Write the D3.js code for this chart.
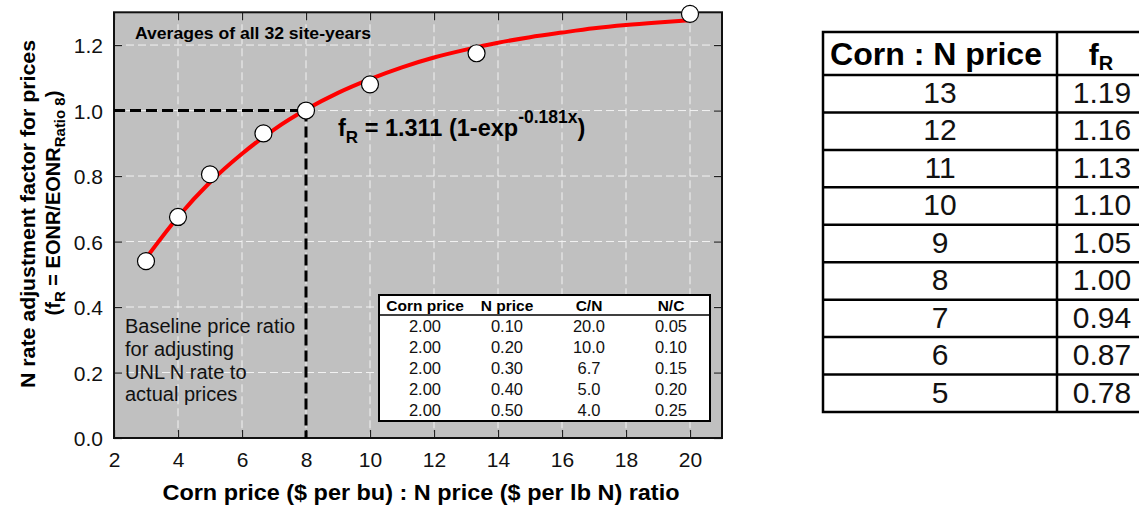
<!DOCTYPE html>
<html><head><meta charset="utf-8">
<script src="https://cdn.jsdelivr.net/npm/d3@7"></script>
<style>
html,body{margin:0;padding:0;background:#fff;}
svg{display:block;font-family:"Liberation Sans",Arial,sans-serif;}
</style></head>
<body>
<svg id="c" width="1139" height="508"></svg>
<script>
// ---- data ----
const xTicks = [2,4,6,8,10,12,14,16,18,20];
const yTicks = [0,0.2,0.4,0.6,0.8,1.0,1.2];
const ratioX = [3,4,5,6.67,8,10,13.33,20];
const factorY = [0.54,0.675,0.805,0.93,1.0,1.08,1.175,1.295];
const fitX = [3,4,5,6,7,8,9,10,11,12,13,14,15,16,17,18,19,20];
const fitY = [0.549,0.675,0.781,0.868,0.942,1.003,1.054,1.096,1.132,1.162,1.186,1.207,1.224,1.238,1.251,1.261,1.269,1.276];
const baseRatio = 8, baseFactor = 1.0;
const insetHeaders = ["Corn price","N price","C/N","N/C"];
const cornPrice = ["2.00","2.00","2.00","2.00","2.00"];
const nPrice = ["0.10","0.20","0.30","0.40","0.50"];
const cnRatio = ["20.0","10.0","6.7","5.0","4.0"];
const ncRatio = ["0.05","0.10","0.15","0.20","0.25"];
const tableRatio = ["13","12","11","10","9","8","7","6","5"];
const tableFactor = ["1.19","1.16","1.13","1.10","1.05","1.00","0.94","0.87","0.78"];
const noteLines = ["Baseline price ratio","for adjusting","UNL N rate to","actual prices"];

// ---- layout ----
const svg = d3.select("#c");
const L=114, R=722, T=12.3, B=438;
const x = d3.scaleLinear().domain([2,21]).range([L,R]);
const y = d3.scaleLinear().domain([0,1.3]).range([B,T]);

svg.append("rect").attr("x",L).attr("y",T).attr("width",R-L).attr("height",B-T).attr("fill","#c0c0c0");

// grid
const g = svg.append("g");
g.selectAll(".vg").data(xTicks.filter(d=>d>2)).join("line")
  .attr("x1",d=>x(d)).attr("x2",d=>x(d)).attr("y1",T).attr("y2",B)
  .attr("stroke","#f2f2f2").attr("stroke-width",1).attr("stroke-dasharray","8,4");
g.selectAll(".hg").data(yTicks.filter(d=>d>0)).join("line")
  .attr("y1",d=>y(d)).attr("y2",d=>y(d)).attr("x1",L).attr("x2",R)
  .attr("stroke","#f2f2f2").attr("stroke-width",1).attr("stroke-dasharray","8,4");

// axes with inward ticks
const xb = svg.append("g").attr("transform",`translate(0,${B})`)
  .call(d3.axisBottom(x).tickValues(xTicks).tickSizeInner(-8).tickSizeOuter(0).tickPadding(14).tickFormat(d3.format("d")));
const xt = svg.append("g").attr("transform",`translate(0,${T})`)
  .call(d3.axisTop(x).tickValues(xTicks).tickSizeInner(-8).tickSizeOuter(0).tickFormat(""));
const yl = svg.append("g").attr("transform",`translate(${L},0)`)
  .call(d3.axisLeft(y).tickValues(yTicks).tickSizeInner(-8).tickSizeOuter(0).tickPadding(11).tickFormat(d3.format(".1f")));
const yr = svg.append("g").attr("transform",`translate(${R},0)`)
  .call(d3.axisRight(y).tickValues(yTicks).tickSizeInner(-8).tickSizeOuter(0).tickFormat(""));
[xb,xt,yl,yr].forEach(a=>{
  a.select(".domain").remove();
  a.selectAll(".tick line").attr("stroke","#222").attr("stroke-width",1.2);
  a.selectAll("text").attr("font-size",21).attr("fill","#111").attr("font-family","Liberation Sans, Arial, sans-serif");
});
yl.selectAll("text").attr("dy","0.36em");

// border
svg.append("rect").attr("x",L).attr("y",T).attr("width",R-L).attr("height",B-T)
  .attr("fill","none").attr("stroke","#111").attr("stroke-width",2);

// baseline dashed lines
svg.append("path")
  .attr("d",`M${x(2)},${y(baseFactor)}H${x(baseRatio)}V${y(0)}`)
  .attr("fill","none").attr("stroke","#000").attr("stroke-width",3).attr("stroke-dasharray","11,5");

// fit curve
const line = d3.line().x((d,i)=>x(fitX[i])).y(d=>y(d)).curve(d3.curveMonotoneX);
svg.append("path").datum(fitY).attr("d",line).attr("fill","none").attr("stroke","#ff0000").attr("stroke-width",4);

// points
svg.selectAll(".pt").data(factorY).join("circle")
  .attr("cx",(d,i)=>x(ratioX[i])).attr("cy",d=>y(d)).attr("r",8.5)
  .attr("fill","#fff").attr("stroke","#000").attr("stroke-width",1.2);

// annotations
svg.append("text").attr("x",135).attr("y",39).attr("font-size",17).attr("font-weight","bold")
  .attr("textLength",236).attr("lengthAdjust","spacingAndGlyphs")
  .text("Averages of all 32 site-years");

const eq = svg.append("text").attr("x",338).attr("y",136).attr("font-size",23.5).attr("font-weight","bold");
eq.append("tspan").text("f");
eq.append("tspan").attr("font-size",17).attr("dy",7).text("R");
eq.append("tspan").attr("dy",-7).text(" = 1.311 (1-exp");
eq.append("tspan").attr("font-size",17.5).attr("dy",-13).text("-0.181x");
eq.append("tspan").attr("dy",13).text(")");

const note = svg.append("text").attr("font-size",20).attr("fill","#111");
noteLines.forEach((t,i)=>note.append("tspan").attr("x",125).attr("y",333+i*22.8).text(t));

// inset table
const IX0=379, IX1=710, IY0=295, IYH=315, IY1=421;
svg.append("rect").attr("x",IX0).attr("y",IY0).attr("width",IX1-IX0).attr("height",IY1-IY0)
  .attr("fill","#fff").attr("stroke","#000").attr("stroke-width",2);
svg.append("line").attr("x1",IX0).attr("x2",IX1).attr("y1",IYH).attr("y2",IYH).attr("stroke","#000").attr("stroke-width",1.5);
const ic = d3.scaleBand().domain(insetHeaders).range([384,712]);
const ir = d3.scaleBand().domain(d3.range(cornPrice.length)).range([IYH+1,IY1-1]);
svg.selectAll(".ih").data(insetHeaders).join("text")
  .attr("x",d=>ic(d)+ic.bandwidth()/2).attr("y",IY0+16).attr("text-anchor","middle")
  .attr("font-size",15.5).attr("font-weight","bold").text(d=>d);
const insetCols = [cornPrice,nPrice,cnRatio,ncRatio];
insetCols.forEach((col,ci)=>{
  svg.selectAll(".ic"+ci).data(col).join("text")
    .attr("x",ic(insetHeaders[ci])+ic.bandwidth()/2)
    .attr("y",(d,i)=>ir(i)+ir.bandwidth()/2+6)
    .attr("text-anchor","middle").attr("font-size",16.5).attr("fill","#111").text(d=>d);
});

// axis titles
svg.append("text").attr("x",421).attr("y",500).attr("text-anchor","middle")
  .attr("font-size",22).attr("font-weight","bold")
  .attr("textLength",517).attr("lengthAdjust","spacingAndGlyphs")
  .text("Corn price ($ per bu) : N price ($ per lb N) ratio");
svg.append("text").attr("transform","translate(35,214) rotate(-90)").attr("text-anchor","middle")
  .attr("font-size",21).attr("font-weight","bold")
  .attr("textLength",348).attr("lengthAdjust","spacingAndGlyphs")
  .text("N rate adjustment factor for prices");
const yl2 = svg.append("text").attr("transform","translate(60,203) rotate(-90)").attr("text-anchor","middle")
  .attr("font-size",20).attr("font-weight","bold");
yl2.append("tspan").text("(f");
yl2.append("tspan").attr("font-size",15).attr("dy",5).text("R");
yl2.append("tspan").attr("dy",-5).text(" = EONR/EONR");
yl2.append("tspan").attr("font-size",15).attr("dy",5).text("Ratio 8");
yl2.append("tspan").attr("dy",-5).text(")");

// right table
const TX0=823, TXD=1057, TX1=1150, TY0=32, TYH=75, TY1=412;
const tr = d3.scaleBand().domain(d3.range(tableRatio.length)).range([TYH,TY1]);
const tg = svg.append("g");
tg.append("rect").attr("x",TX0).attr("y",TY0).attr("width",TX1-TX0).attr("height",TY1-TY0)
  .attr("fill","#fff").attr("stroke","#000").attr("stroke-width",2.5);
tg.append("line").attr("x1",TXD).attr("x2",TXD).attr("y1",TY0).attr("y2",TY1).attr("stroke","#000").attr("stroke-width",2.5);
tg.selectAll(".rl").data(d3.range(tableRatio.length)).join("line")
  .attr("x1",TX0).attr("x2",TX1).attr("y1",d=>tr(d)).attr("y2",d=>tr(d))
  .attr("stroke","#000").attr("stroke-width",2.5);
tg.append("text").attr("x",936).attr("y",TY0+33).attr("text-anchor","middle")
  .attr("font-size",31).attr("font-weight","bold")
  .attr("textLength",212).attr("lengthAdjust","spacingAndGlyphs")
  .text("Corn : N price");
const fh = tg.append("text").attr("x",1101).attr("y",TY0+33).attr("text-anchor","middle")
  .attr("font-size",30).attr("font-weight","bold");
fh.append("tspan").text("f");
fh.append("tspan").attr("font-size",20).attr("dy",5).text("R");
tg.selectAll(".tr1").data(tableRatio).join("text")
  .attr("x",(TX0+TXD)/2).attr("y",(d,i)=>tr(i)+28).attr("text-anchor","middle")
  .attr("font-size",30).attr("fill","#111").text(d=>d);
tg.selectAll(".tr2").data(tableFactor).join("text")
  .attr("x",1102).attr("y",(d,i)=>tr(i)+28).attr("text-anchor","middle")
  .attr("font-size",30).attr("fill","#111").text(d=>d);
</script>
</body></html>
